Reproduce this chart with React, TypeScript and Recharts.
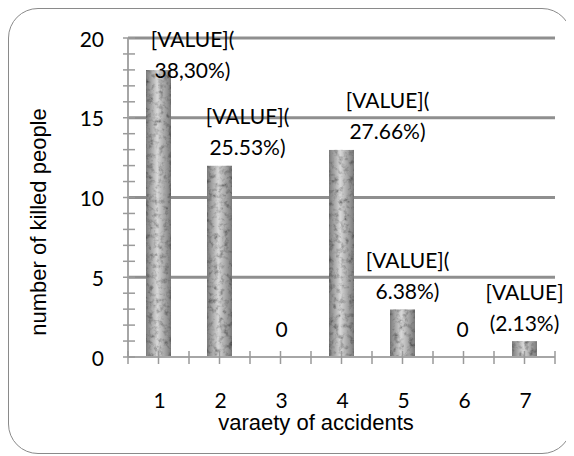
import React from "react";
import {
  Bar,
  ComposedChart,
  CartesianGrid,
  LabelList,
  Line,
  XAxis,
  YAxis,
} from "recharts";

const categories = [1, 2, 3, 4, 5, 6, 7];
const killed = [18, 12, 0, 13, 3, 0, 1];
const labelTop = ["[VALUE](", "[VALUE](", "0", "[VALUE](", "[VALUE](", "0", "[VALUE]"];
const labelBottom = ["38,30%)", "25.53%)", "", "27.66%)", "6.38%)", "", "(2.13%)"];
const yTicks = [0, 5, 10, 15, 20];

// label nudges, the labels in the original were dragged by hand
const labelNudge = [34, 28, 1, 46, 5, -1, 0];

const data = categories.map((c, i) => ({ x: c, value: killed[i] }));

const xTickValues: number[] = [];
for (let t = 0.5; t <= 7.5; t += 0.5) xTickValues.push(t);
const yTickValues: number[] = [];
for (let t = 0; t <= 20; t++) yTickValues.push(t);

const numFont = "Lato, 'Open Sans', sans-serif";
const titleFont = "'Liberation Sans', Arial, sans-serif";

function YTick(props: any) {
  const { x, y, payload } = props;
  const major = yTicks.includes(payload.value);
  return (
    <g>
      <line x1={x - 5} x2={x + 7} y1={y} y2={y} stroke="#9a9a9a" strokeWidth={1.5} />
      {major && (
        <text
          x={x - 24}
          y={y}
          textAnchor="end"
          dominantBaseline="central"
          fontSize={21}
          fontFamily={numFont}
          fill="#000"
        >
          {payload.value}
        </text>
      )}
    </g>
  );
}

function XTick(props: any) {
  const { x, y, payload } = props;
  const isInt = Number.isInteger(payload.value);
  return (
    <g>
      <line x1={x} x2={x} y1={y - 6} y2={y + 7} stroke="#9a9a9a" strokeWidth={1.5} />
      {isInt && (
        <text
          x={x + 1}
          y={y + 42}
          textAnchor="middle"
          dominantBaseline="central"
          fontSize={21}
          fontFamily={numFont}
          fill="#000"
        >
          {payload.value}
        </text>
      )}
    </g>
  );
}

function PointLabel(props: any) {
  const { x, y, index } = props;
  const cx = x + labelNudge[index];
  const common = {
    textAnchor: "middle" as const,
    dominantBaseline: "central" as const,
    fontSize: 21,
    fontFamily: numFont,
    fill: "#000",
  };
  if (!labelBottom[index]) {
    return (
      <text x={cx} y={y - 29} {...common}>
        {labelTop[index]}
      </text>
    );
  }
  const first = Math.max(y - 19 - 31, 29);
  return (
    <g>
      <text x={cx} y={first} {...common}>
        {labelTop[index]}
      </text>
      <text x={cx} y={first + 31} {...common}>
        {labelBottom[index]}
      </text>
    </g>
  );
}

export default function App() {
  return (
    <div
      style={{
        width: 562,
        height: 444,
        border: "1.5px solid #8a8a8a",
        borderRadius: 30,
        background: "#fff",
        position: "relative",
      }}
    >
      <ComposedChart
        width={562}
        height={444}
        data={data}
        margin={{ top: 29, right: 16, bottom: 36, left: 0 }}
      >
        <defs>
          <linearGradient id="barShade" x1="0" y1="0" x2="1" y2="0">
            <stop offset="0%" stopColor="#7a7a7a" />
            <stop offset="45%" stopColor="#d8d8d8" />
            <stop offset="100%" stopColor="#7a7a7a" />
          </linearGradient>
          <filter id="granite" x="0" y="0" width="100%" height="100%">
            <feTurbulence type="fractalNoise" baseFrequency="0.2" numOctaves={3} seed={5} result="n" />
            <feColorMatrix
              in="n"
              type="matrix"
              values="0.33 0.33 0.33 0 0 0.33 0.33 0.33 0 0 0.33 0.33 0.33 0 0 0 0 0 0 1"
              result="g"
            />
            <feComponentTransfer in="g" result="c">
              <feFuncR type="linear" slope="2.8" intercept="-0.45" />
              <feFuncG type="linear" slope="2.8" intercept="-0.45" />
              <feFuncB type="linear" slope="2.8" intercept="-0.45" />
            </feComponentTransfer>
            <feBlend in="SourceGraphic" in2="c" mode="multiply" result="b" />
            <feComposite in="b" in2="SourceGraphic" operator="in" />
          </filter>
        </defs>
        <CartesianGrid
          horizontal={true}
          vertical={false}
          horizontalValues={[5, 10, 15, 20]}
          stroke="#8f8f8f"
          strokeWidth={3}
        />
        <XAxis
          dataKey="x"
          type="number"
          domain={[0.5, 7.5]}
          ticks={xTickValues}
          interval={0}
          height={60}
          tickSize={0}
          tickMargin={0}
          tickLine={false}
          axisLine={{ stroke: "#a6a6a6", strokeWidth: 2 }}
          tick={<XTick />}
          label={() => (
            <text
              x={307}
              y={413}
              textAnchor="middle"
              dominantBaseline="central"
              fontSize={22}
              fontFamily={titleFont}
              fill="#000"
            >
              varaety of accidents
            </text>
          )}
        />
        <YAxis
          type="number"
          domain={[0, 20]}
          ticks={yTickValues}
          interval={0}
          width={119}
          tickSize={0}
          tickMargin={0}
          tickLine={false}
          axisLine={{ stroke: "#a6a6a6", strokeWidth: 2 }}
          tick={<YTick />}
          label={() => (
            <text
              x={29}
              y={213}
              transform="rotate(-90 29 213)"
              textAnchor="middle"
              dominantBaseline="central"
              fontSize={22}
              fontFamily={titleFont}
              fill="#000"
            >
              number of killed people
            </text>
          )}
        />
        <Bar
          dataKey="value"
          fill="url(#barShade)"
          filter="url(#granite)"
          barSize={25}
          isAnimationActive={false}
        />
        <Line
          dataKey="value"
          stroke="none"
          dot={false}
          activeDot={false}
          legendType="none"
          isAnimationActive={false}
        >
          <LabelList dataKey="value" content={<PointLabel />} />
        </Line>
      </ComposedChart>
    </div>
  );
}
